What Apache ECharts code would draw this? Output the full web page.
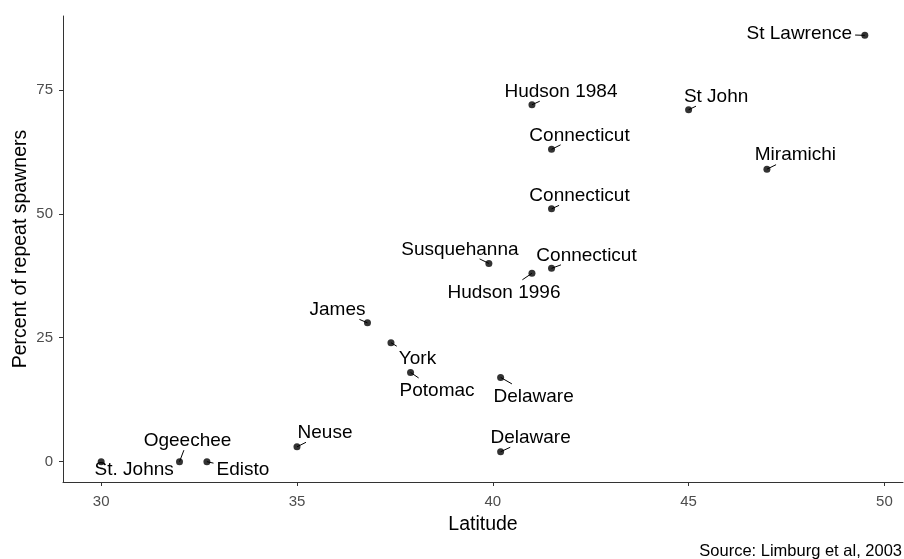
<!DOCTYPE html>
<html>
<head>
<meta charset="utf-8">
<script src="https://cdn.jsdelivr.net/npm/echarts@6/dist/echarts.min.js"></script>
<style>
html,body{margin:0;padding:0;background:#fff;}
#chart{width:904px;height:559px;}
</style>
</head>
<body>
<div id="chart"></div>
<script>
// ---- data ----
const rivers = ["St Lawrence","Hudson 1984","St John","Connecticut","Miramichi","Connecticut","Susquehanna","Connecticut","Hudson 1996","James","York","Potomac","Delaware","Neuse","Delaware","St. Johns","Ogeechee","Edisto"];
const latitude = [49.5, 41.0, 45.0, 41.5, 47.0, 41.5, 39.9, 41.5, 41.0, 36.8, 37.4, 37.9, 40.2, 35.0, 40.2, 30.0, 32.0, 32.7];
const repeatSpawners = [86, 72, 71, 63, 59, 51, 40, 39, 38, 28, 24, 18, 17, 3, 2, 0, 0, 0];
const xTicks = [30, 35, 40, 45, 50];
const yTicks = [0, 25, 50, 75];

// ---- label placement (pixel offsets from each point, repel-style) ----
const labelOffsets = [
  [-65.5, -2], [29, -13], [27.5, -13], [28, -14], [28.5, -14], [28, -13],
  [-29, -14], [35, -13], [-28, 19], [-30, -13], [26.5, 16], [26.5, 18],
  [33, 19], [28, -14], [30, -14], [33, 8], [8, -21], [36, 8]
];

const FONT = "'Liberation Sans', Arial, sans-serif";
const LABEL_SIZE = 19;
const measureCtx = document.createElement('canvas').getContext('2d');
measureCtx.font = LABEL_SIZE + "px 'Liberation Sans', Arial, sans-serif";

const points = latitude.map((x, i) => [x, repeatSpawners[i], i]);

const chart = echarts.init(document.getElementById('chart'), null, { renderer: 'canvas' });

function renderLabel(params, api) {
  const i = api.value(2);
  const p = api.coord([api.value(0), api.value(1)]);
  const o = labelOffsets[i];
  const cx = p[0] + o[0], cy = p[1] + o[1];
  const text = rivers[i];
  const hw = measureCtx.measureText(text).width / 2 + 3;
  const top = 12.5, bottom = 9.5;
  const children = [];
  const dx = p[0] - cx, dy = p[1] - cy;
  const tx = dx !== 0 ? hw / Math.abs(dx) : Infinity;
  const ty = dy > 0 ? bottom / dy : (dy < 0 ? top / -dy : Infinity);
  const t = Math.min(tx, ty);
  if (t < 1) {
    const ex = cx + dx * t, ey = cy + dy * t;
    children.push({
      type: 'line',
      shape: { x1: p[0], y1: p[1], x2: ex, y2: ey },
      style: { stroke: '#000', lineWidth: 1 }
    });
  }
  children.push({
    type: 'text',
    style: {
      text: text, x: cx, y: cy, align: 'center', verticalAlign: 'middle',
      font: LABEL_SIZE + "px 'Liberation Sans', Arial, sans-serif", fill: '#000'
    }
  });
  return { type: 'group', children: children };
}

chart.setOption({
  animation: false,
  backgroundColor: '#ffffff',
  grid: { left: 63, right: 1, top: 16, bottom: 77, containLabel: false, outerBoundsMode: 'none' },
  xAxis: {
    type: 'value',
    min: 29.025,
    max: 50.475,
    name: 'Latitude',
    nameLocation: 'middle',
    nameGap: 33,
    nameMoveOverlap: false,
    nameTextStyle: { fontFamily: FONT, fontSize: 19.5, color: '#000' },
    axisLine: { show: true, onZero: false, lineStyle: { color: '#333', width: 1 } },
    axisTick: { show: true, length: 4, customValues: xTicks, lineStyle: { color: '#333' } },
    axisLabel: { customValues: xTicks, margin: 12, fontFamily: FONT, fontSize: 15, color: '#4d4d4d' },
    splitLine: { show: false }
  },
  yAxis: {
    type: 'value',
    min: -4.1,
    max: 89.9,
    name: 'Percent of repeat spawners',
    nameLocation: 'middle',
    nameRotate: 90,
    nameGap: 32,
    nameMoveOverlap: false,
    nameTextStyle: { fontFamily: FONT, fontSize: 19.5, color: '#000' },
    axisLine: { show: true, onZero: false, lineStyle: { color: '#333', width: 1 } },
    axisTick: { show: true, length: 4, customValues: yTicks, lineStyle: { color: '#333' } },
    axisLabel: { customValues: yTicks, margin: 10, fontFamily: FONT, fontSize: 15, color: '#4d4d4d' },
    splitLine: { show: false }
  },
  series: [{
    type: 'custom',
    data: points,
    encode: { x: 0, y: 1 },
    renderItem: renderLabel,
    z: 1,
    silent: true
  }, {
    type: 'scatter',
    data: points,
    encode: { x: 0, y: 1 },
    symbol: 'circle',
    symbolSize: 7,
    itemStyle: { color: '#000' },
    z: 2,
    emphasis: { disabled: true }
  }],
  graphic: [{
    type: 'text',
    right: 2,
    top: 543,
    style: { text: 'Source: Limburg et al, 2003', fontFamily: FONT, fontSize: 16.5, fill: '#000' }
  }]
});
</script>
</body>
</html>
